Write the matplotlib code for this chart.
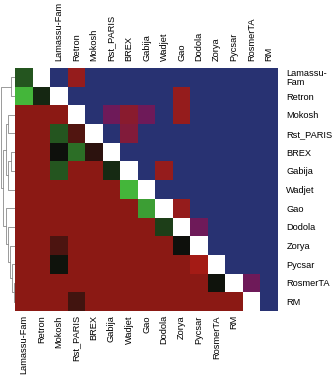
import numpy as np
import matplotlib
matplotlib.use("Agg")
import matplotlib.pyplot as plt
from matplotlib.colors import LinearSegmentedColormap

plt.rcParams['font.family'] = ['Liberation Sans', 'DejaVu Sans']

systems = ['Lamassu-Fam', 'Retron', 'Mokosh', 'Rst_PARIS', 'BREX', 'Gabija',
           'Wadjet', 'Gao', 'Dodola', 'Zorya', 'Pycsar', 'RosmerTA', 'RM']
row_labels = ['Lamassu-\nFam'] + systems[1:]

# lower block: row r holds columns 0..r
lower = [
    [-0.40],
    [-0.97, -0.14],
    [0.81, 0.81, 0.81],
    [0.81, 0.81, -0.40, 0.43],
    [0.81, 0.81, 0.00, -0.55, 0.20],
    [0.81, 0.81, -0.40, 0.81, 0.81, -0.15],
    [0.81, 0.81, 0.81, 0.81, 0.81, 0.81, -0.97],
    [0.81, 0.81, 0.81, 0.81, 0.81, 0.81, 0.81, -0.83],
    [0.81, 0.81, 0.81, 0.81, 0.81, 0.81, 0.81, 0.81, -0.27],
    [0.81, 0.81, 0.40, 0.81, 0.81, 0.81, 0.81, 0.81, 0.81, 0.00],
    [0.81, 0.81, -0.02, 0.81, 0.81, 0.81, 0.81, 0.81, 0.81, 0.81, 0.97],
    [0.81, 0.81, 0.81, 0.81, 0.81, 0.81, 0.81, 0.81, 0.81, 0.81, 0.81, -0.02],
    [0.81, 0.81, 0.81, 0.33, 0.81, 0.81, 0.81, 0.81, 0.81, 0.81, 0.81, 0.81, 0.81],
]

# upper block: row r holds columns r..12
upper = [
    [0, 1.0, 0, 0, 0, 0, 0, 0, 0, 0, 0, 0, 0],
    [0, 0, 0, 0, 0, 0, 1.0, 0, 0, 0, 0, 0],
    [0, 0.5, 0.85, 0.5, 0, 1.0, 0, 0, 0, 0, 0],
    [0, 0.75, 0, 0, 0, 0, 0, 0, 0, 0],
    [0, 0, 0, 0, 0, 0, 0, 0, 0],
    [0, 1.0, 0, 0, 0, 0, 0, 0],
    [0, 0, 0, 0, 0, 0, 0],
    [1.0, 0, 0, 0, 0, 0],
    [0.5, 0, 0, 0, 0],
    [0, 0, 0, 0],
    [0, 0, 0],
    [0.5, 0],
    [0],
]

# row clustering: (left, right, height)
tree = (((0, 1, 0.25)),
        ((((2, 3, 0.45), ((4, 5, 0.30), 6, 0.50), 0.62),
          (7, (8, (9, (10, (11, 12, 0.10), 0.20), 0.32), 0.45), 0.60), 0.80)),
        0.92)

cmap_low = LinearSegmentedColormap.from_list(
    'gbr', [(0, '#46bb3c'), (0.5, '#0e100c'), (1, '#a81c16')])
cmap_up = LinearSegmentedColormap.from_list(
    'bpr', [(0, '#283272'), (0.5, '#6e1a5a'), (1, '#951c1c')])

n = len(systems)
shift = 2
img = np.ones((n, n + shift, 4))
for r in range(n):
    for c, v in enumerate(lower[r]):
        img[r, c] = cmap_low((v + 1) / 2)
    for k, v in enumerate(upper[r]):
        img[r, r + k + shift] = cmap_up(v)

fig = plt.figure(figsize=(3.34, 3.78), dpi=100)
W, H = 334, 378
fs = 6.7
ax = fig.add_axes([15 / W, 1 - 311 / H, 263 / W, 243 / H])
ax.imshow(img, aspect='auto', interpolation='nearest',
          extent=(-0.5, n + shift - 0.5, n - 0.5, -0.5))
for s in ax.spines.values():
    s.set_visible(False)

ax.set_xticks(range(n))
ax.set_xticklabels(systems, rotation=90, fontsize=fs)
ax.yaxis.tick_right()
ax.set_yticks(range(n))
ax.set_yticklabels(row_labels, fontsize=fs, linespacing=1.0)
ax.tick_params(length=0, pad=3)
ax.tick_params(axis='y', pad=6)

top = ax.twiny()
top.set_xlim(ax.get_xlim())
top.set_xticks(range(shift, n + shift))
top.set_xticklabels(systems, rotation=90, fontsize=fs)
top.tick_params(length=0, pad=5)
for s in top.spines.values():
    s.set_visible(False)

# dendrogram on the left
dax = fig.add_axes([0, 1 - 311 / H, 15 / W, 243 / H])
dax.set_xlim(1.0, 0)
dax.set_ylim(n - 0.5, -0.5)
dax.axis('off')


def draw(node):
    if isinstance(node, int):
        return node, 0.0
    a, b, h = node
    ya, ha = draw(a)
    yb, hb = draw(b)
    dax.plot([ha, h, h, hb], [ya, ya, yb, yb], color='#8a8a8a', lw=0.6)
    return (ya + yb) / 2, h


draw(tree)

fig.savefig('out.png', dpi=100)
